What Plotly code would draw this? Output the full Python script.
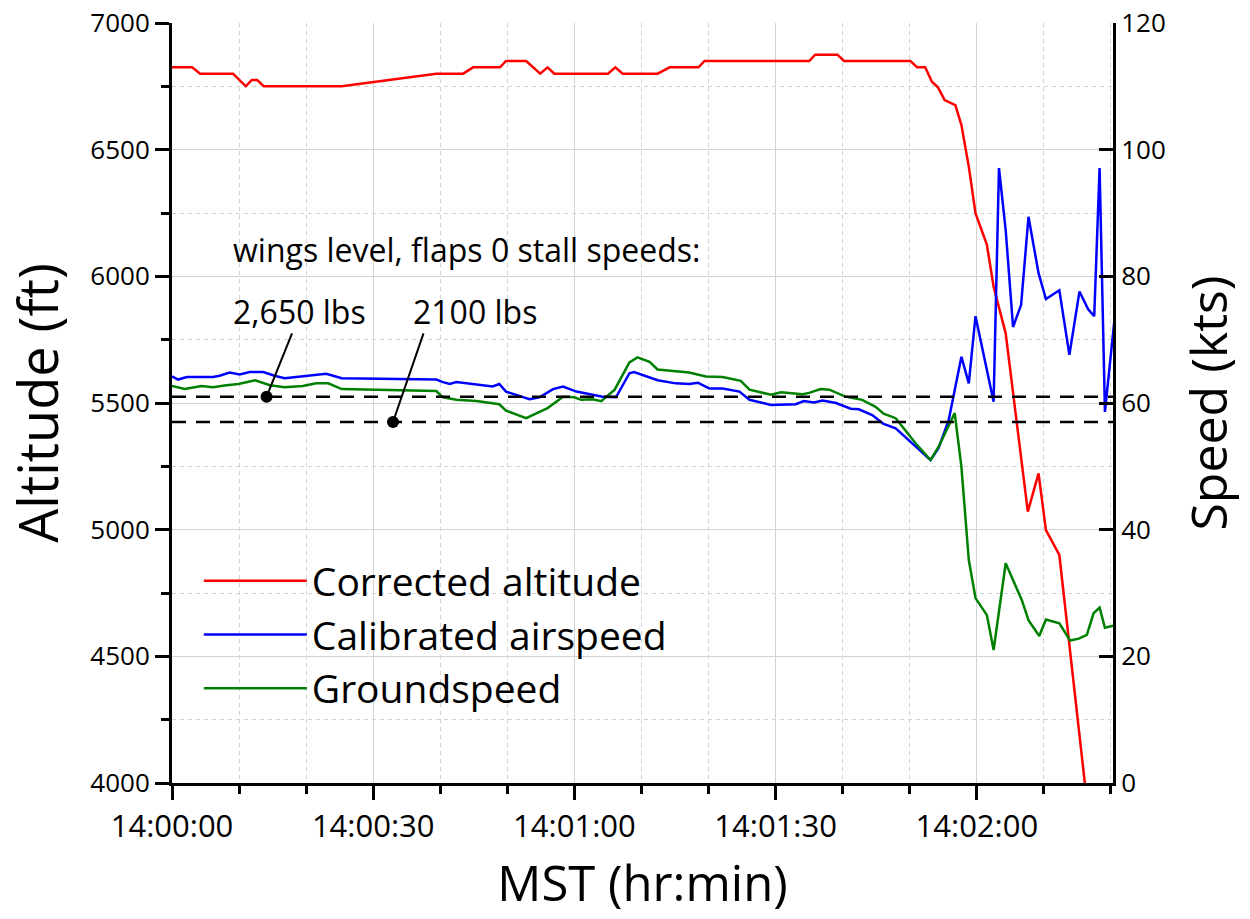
import pandas as pd
import plotly.graph_objects as go

BASE = pd.Timestamp("2000-01-01 14:00:00")

# ---- data (seconds after 14:00:00) ----
alt_t = [0, 3.0, 4.2, 9.1, 11.0, 11.9, 12.7, 13.7, 25.3, 39.4, 43.4, 44.9, 48.9, 49.8,
         52.8, 54.9, 56.0, 57.0, 65.0, 66.1, 67.2, 72.4, 74.2, 78.5, 79.4, 95.0, 95.9,
         99.2, 100.2, 110.1, 111.1, 112.3, 113.3, 114.2, 115.2, 116.8, 117.7, 118.8,
         119.8, 121.5, 122.5, 124.3, 127.6, 129.2, 130.3, 132.3, 136.1, 137.1]
alt_ft = [6825, 6825, 6800, 6800, 6750, 6775, 6775, 6750, 6750, 6800, 6800, 6825, 6825, 6850,
          6850, 6800, 6825, 6800, 6800, 6825, 6800, 6800, 6825, 6825, 6850, 6850, 6875,
          6875, 6850, 6850, 6825, 6825, 6768, 6746, 6696, 6676, 6597, 6433,
          6249, 6124, 5959, 5775, 5071, 5222, 4998, 4900, 4000, 3760]

cas_t = [0, 0.9, 2.2, 6.1, 7.1, 8.6, 10.1, 11.6, 13.6, 15.3, 16.8, 21.0, 23.0, 25.3, 39.4,
         40.4, 41.4, 42.4, 47.8, 48.8, 49.8, 53.3, 54.8, 56.8, 58.3, 60.3, 64.2, 66.2, 68.2,
         68.9, 72.4, 75.1, 77.1, 78.4, 80.1, 82.1, 84.6, 86.1, 89.3, 93.0, 94.2, 95.7, 97.0,
         99.0, 101.2, 102.4, 104.4, 106.1, 107.9, 110.9, 113.1, 114.3, 115.8, 116.6, 117.7,
         118.8, 119.8, 122.5, 123.3, 124.3, 125.4, 126.6, 127.7, 129.2, 130.3, 132.3, 133.8,
         135.3, 136.6, 137.5, 138.3, 139.1, 140.6]
cas_kts = [64.2, 63.7, 64.1, 64.1, 64.3, 64.8, 64.5, 64.9, 64.9, 64.3, 63.9, 64.4, 64.6, 63.9, 63.7,
           63.3, 63.0, 63.3, 62.6, 63.0, 61.8, 60.6, 60.9, 62.2, 62.6, 61.8, 61.0, 60.9, 64.7,
           64.9, 63.6, 63.1, 63.0, 63.2, 62.3, 62.3, 61.8, 60.5, 59.7, 59.8, 60.3, 60.1, 60.4,
           60.0, 59.1, 59.0, 58.1, 56.7, 56.0, 53.1, 51.0, 52.9, 57.3, 61.5, 67.3,
           63.1, 73.7, 60.2, 97.1, 87.3, 72.0, 75.5, 89.4, 80.5, 76.4, 77.8, 67.6,
           77.6, 74.8, 73.7, 97.1, 58.6, 74.0]

gs_t = [0, 1.9, 4.4, 6.1, 8.1, 9.9, 12.4, 14.6, 16.8, 19.5, 21.5, 23.3, 25.3, 39.4, 40.4,
        42.4, 45.4, 47.1, 48.8, 49.8, 52.8, 56.0, 58.3, 60.0, 61.0, 62.7, 64.0, 66.0, 68.2,
        69.4, 71.2, 72.4, 74.6, 77.1, 79.6, 82.1, 84.8, 86.1, 89.3, 90.8, 94.0, 95.0, 96.7,
        98.0, 100.4, 102.9, 104.9, 106.1, 107.9, 110.9, 113.1, 114.3, 116.7, 117.7, 118.8,
        119.8, 121.5, 122.5, 124.3, 126.7, 127.7, 129.3, 130.3, 132.3, 133.9, 135.2, 136.4,
        137.4, 138.3, 139.1, 140.6]
gs_kts = [62.7, 62.2, 62.7, 62.5, 62.8, 63.0, 63.6, 62.8, 62.5, 62.7, 63.1, 63.1, 62.2, 61.9, 60.9,
          60.5, 60.3, 60.0, 59.8, 58.8, 57.6, 59.2, 61.0, 60.9, 60.5, 60.6, 60.3, 62.1, 66.4,
          67.2, 66.5, 65.3, 65.1, 64.8, 64.2, 64.1, 63.5, 62.1, 61.3, 61.7, 61.4, 61.6, 62.2,
          62.1, 61.0, 60.5, 59.4, 58.3, 57.6, 53.6, 51.0, 53.1, 58.4, 49.9, 35.2,
          29.2, 26.5, 21.0, 34.7, 28.9, 25.7, 23.2, 25.8, 25.2, 22.5, 22.8, 23.4,
          26.8, 27.7, 24.5, 24.9]

stall_kts = [61, 57]                  # stall speeds: 2,650 lbs and 2100 lbs
stall_labels = ["2,650 lbs", "2100 lbs"]
stall_mark_t = [14.1, 32.95]
callout_end_t = [17.9, 37.5]
callout_end_kts = [71.0, 71.0]

x_end_s = 140.3


def ts(secs):
    return [BASE + pd.Timedelta(seconds=s) for s in secs]


FONT = "Open Sans"
fig = go.Figure()

fig.add_trace(go.Scatter(x=ts(alt_t), y=alt_ft, name="Corrected altitude", mode="lines",
                         line=dict(color="#ff0000", width=2.5), yaxis="y"))
fig.add_trace(go.Scatter(x=ts(cas_t), y=cas_kts, name="Calibrated airspeed", mode="lines",
                         line=dict(color="#0000ff", width=2.5), yaxis="y2"))
fig.add_trace(go.Scatter(x=ts(gs_t), y=gs_kts, name="Groundspeed", mode="lines",
                         line=dict(color="#008000", width=2.5), yaxis="y2"))

# stall-speed reference lines
for v in stall_kts:
    fig.add_trace(go.Scatter(x=ts([0, x_end_s]), y=[v, v], mode="lines", yaxis="y2",
                             line=dict(color="black", width=2.5, dash="14px,10px"),
                             showlegend=False, hoverinfo="skip"))

# callout lines with dots
for i in range(len(stall_kts)):
    fig.add_trace(go.Scatter(x=ts([stall_mark_t[i], callout_end_t[i]]),
                             y=[stall_kts[i], callout_end_kts[i]], mode="lines", yaxis="y2",
                             line=dict(color="black", width=2), showlegend=False,
                             hoverinfo="skip"))
    fig.add_trace(go.Scatter(x=ts([stall_mark_t[i]]), y=[stall_kts[i]], mode="markers",
                             yaxis="y2", marker=dict(color="black", size=12),
                             showlegend=False, hoverinfo="skip"))

annots = [
    dict(text="wings level, flaps 0 stall speeds:", x=ts([8.8])[0], y=84.2),
    dict(text=stall_labels[0], x=ts([8.8])[0], y=74.5),
    dict(text=stall_labels[1], x=ts([35.6])[0], y=74.5),
]
for a in annots:
    fig.add_annotation(text=a["text"], x=a["x"], y=a["y"], xref="x", yref="y2",
                       xanchor="left", yanchor="middle", showarrow=False,
                       font=dict(family=FONT, size=32, color="black"))

grid_col = "#d3d3d3"
fig.update_layout(
    width=1250, height=919,
    margin=dict(l=172, r=137, t=23, b=136),
    paper_bgcolor="white", plot_bgcolor="white",
    font=dict(family=FONT, color="black"),
    showlegend=True,
    legend=dict(x=0.0285, y=0.308, xanchor="left", yanchor="top",
                font=dict(family=FONT, size=39, color="black"),
                bgcolor="rgba(0,0,0,0)", itemwidth=103, tracegroupgap=0),
    xaxis=dict(
        type="date", automargin=False,
        range=[BASE, BASE + pd.Timedelta(seconds=x_end_s)],
        tick0=BASE, dtick=30000, tickformat="%H:%M:%S",
        ticks="outside", ticklen=14, tickwidth=2.5, tickcolor="black",
        showline=True, linewidth=3, linecolor="black",
        showgrid=True, gridcolor=grid_col, gridwidth=1,
        minor=dict(dtick=10000, ticks="outside", ticklen=8, tickwidth=2.5, tickcolor="black",
                   showgrid=True, gridcolor=grid_col, griddash="4px,4px", gridwidth=1),
        tickfont=dict(family=FONT, size=31, color="black"),
        title=dict(text="MST (hr:min)", font=dict(family=FONT, size=49, color="black"),
                   standoff=22),
        zeroline=False,
    ),
    yaxis=dict(
        automargin=False,
        range=[4000, 7000], dtick=500,
        ticks="outside", ticklen=14, tickwidth=2.5, tickcolor="black",
        showline=True, linewidth=3, linecolor="black",
        showgrid=True, gridcolor=grid_col, gridwidth=1,
        minor=dict(dtick=250, ticks="outside", ticklen=8, tickwidth=2.5, tickcolor="black",
                   showgrid=True, gridcolor=grid_col, griddash="4px,4px", gridwidth=1),
        tickfont=dict(family=FONT, size=26, color="black"),
        title=dict(text="Altitude (ft)", font=dict(family=FONT, size=54, color="black"),
                   standoff=18),
        zeroline=False,
    ),
    yaxis2=dict(
        automargin=False,
        range=[0, 120], dtick=20, overlaying="y", side="right",
        ticks="inside", ticklen=14, tickwidth=2.5, tickcolor="black",
        showline=True, linewidth=3, linecolor="black",
        showgrid=False, zeroline=False,
        tickfont=dict(family=FONT, size=26, color="black"),
        title=dict(text="Speed (kts)", font=dict(family=FONT, size=50, color="black"),
                   standoff=28),
    ),
)

# remove the default 8px page margin so the figure fills the window exactly
fig.write_html("out.html", config={"displayModeBar": False},
               post_script="document.body.style.margin='0px';")
